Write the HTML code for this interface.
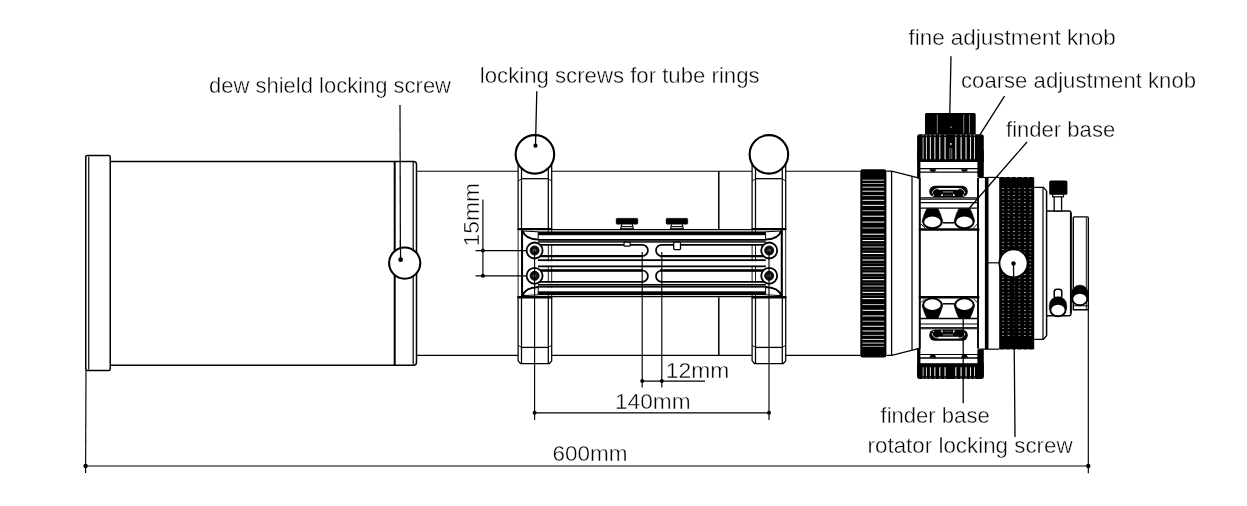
<!DOCTYPE html>
<html><head><meta charset="utf-8"><title>Telescope dimensions</title>
<style>
html,body{margin:0;padding:0;background:#fff;}
body{width:1247px;height:506px;overflow:hidden;font-family:"Liberation Sans",sans-serif;}
svg{display:block;}
</style></head>
<body>
<svg width="1247" height="506" viewBox="0 0 1247 506" stroke="#000" fill="none" font-family="Liberation Sans, sans-serif">
<rect x="0" y="0" width="1247" height="506" fill="#fff" stroke="none"/>
<rect x="85.75" y="155.5" width="24.5" height="215" rx="1.5" fill="none" stroke-width="1.5" />
<line x1="88.75" y1="156.5" x2="88.75" y2="369.5" stroke-width="1.2" />
<path d="M110.25 161.4 H413.5 Q416.5 161.4 416.5 164.4 V362.2 Q416.5 365.2 413.5 365.2 H110.25" fill="none" stroke-width="1.5" />
<line x1="394.7" y1="161.4" x2="394.7" y2="365.2" stroke-width="2" />
<line x1="413.2" y1="162" x2="413.2" y2="364.6" stroke-width="1.2" />
<line x1="400.0" y1="105" x2="400.4" y2="258" stroke-width="1.2" />
<circle cx="404.7" cy="263.1" r="15.6" fill="#fff" stroke-width="2.1" />
<line x1="400.4" y1="240" x2="400.6" y2="259.7" stroke-width="1.2" />
<circle cx="400.6" cy="259.7" r="2.4" fill="#000" stroke="none"/>
<line x1="416.5" y1="171.2" x2="860.4" y2="171.2" stroke-width="1.15" />
<line x1="416.5" y1="355.4" x2="860.4" y2="355.4" stroke-width="1.15" />
<line x1="718.8" y1="171.2" x2="718.8" y2="355.4" stroke-width="1.5" />
<rect x="518.1" y="160" width="33.60000000000002" height="70" fill="#fff" stroke="none"/>
<path d="M518.1 160 V230 M551.7 160 V230" fill="none" stroke-width="1.25" />
<path d="M521.5 166 V230 M548.3000000000001 166 V230" fill="none" stroke-width="1.25" />
<path d="M521.5 178.7 H548.3000000000001" fill="none" stroke-width="1.3" />
<path d="M518.1 181 L521.5 178.9 M551.7 181 L548.3000000000001 178.9" fill="none" stroke-width="0.9" />
<path d="M518.1 296 V360.8 L520.5 363.5 H549.3000000000001 L551.7 360.8 V296" fill="#fff" stroke-width="1.25" />
<path d="M521.5 296 V363 M548.3000000000001 296 V363" fill="none" stroke-width="1.25" />
<path d="M521.5 347.4 H548.3000000000001" fill="none" stroke-width="1.3" />
<path d="M518.1 345.4 L521.5 347.3 M551.7 345.4 L548.3000000000001 347.3" fill="none" stroke-width="0.9" />
<circle cx="534.9000000000001" cy="154.4" r="19.25" fill="#fff" stroke-width="2.1" />
<rect x="752.1" y="160" width="33.60000000000002" height="70" fill="#fff" stroke="none"/>
<path d="M752.1 160 V230 M785.7 160 V230" fill="none" stroke-width="1.25" />
<path d="M755.5 166 V230 M782.3000000000001 166 V230" fill="none" stroke-width="1.25" />
<path d="M755.5 178.7 H782.3000000000001" fill="none" stroke-width="1.3" />
<path d="M752.1 181 L755.5 178.9 M785.7 181 L782.3000000000001 178.9" fill="none" stroke-width="0.9" />
<path d="M752.1 296 V360.8 L754.5 363.5 H783.3000000000001 L785.7 360.8 V296" fill="#fff" stroke-width="1.25" />
<path d="M755.5 296 V363 M782.3000000000001 296 V363" fill="none" stroke-width="1.25" />
<path d="M755.5 347.4 H782.3000000000001" fill="none" stroke-width="1.3" />
<path d="M752.1 345.4 L755.5 347.3 M785.7 345.4 L782.3000000000001 347.3" fill="none" stroke-width="0.9" />
<circle cx="768.9000000000001" cy="154.4" r="19.25" fill="#fff" stroke-width="2.1" />
<g id="plate">
<path d="M617.3 218.3 h19.4 a1.2 1.2 0 0 1 1.2 1.2 v3.6 a1.2 1.2 0 0 1 -1.2 1.2 h-19.4 a1.2 1.2 0 0 1 -1.2 -1.2 v-3.6 a1.2 1.2 0 0 1 1.2 -1.2 z" fill="#000" stroke-width="0.4" />
<path d="M621.8 224.4 L620.4 229.6 M632.2 224.4 L633.6 229.6" fill="none" stroke-width="1.2" />
<line x1="621.4" y1="226.6" x2="632.6" y2="226.6" stroke-width="1.0" />
<line x1="620.8" y1="228.4" x2="633.2" y2="228.4" stroke-width="0.9" />
<path d="M667.1999999999999 218.3 h19.4 a1.2 1.2 0 0 1 1.2 1.2 v3.6 a1.2 1.2 0 0 1 -1.2 1.2 h-19.4 a1.2 1.2 0 0 1 -1.2 -1.2 v-3.6 a1.2 1.2 0 0 1 1.2 -1.2 z" fill="#000" stroke-width="0.4" />
<path d="M671.6999999999999 224.4 L670.3 229.6 M682.1 224.4 L683.5 229.6" fill="none" stroke-width="1.2" />
<line x1="671.3" y1="226.6" x2="682.5" y2="226.6" stroke-width="1.0" />
<line x1="670.6999999999999" y1="228.4" x2="683.1" y2="228.4" stroke-width="0.9" />
<rect x="519.1" y="229.3" width="265.6" height="68.0" fill="#fff" stroke="none"/>
<line x1="521.5" y1="229.3" x2="521.5" y2="297.3" stroke-width="0.9" />
<line x1="548.3000000000001" y1="229.3" x2="548.3000000000001" y2="297.3" stroke-width="0.9" />
<line x1="551.7" y1="229.3" x2="551.7" y2="297.3" stroke-width="0.9" />
<line x1="518.1" y1="229.3" x2="518.1" y2="297.3" stroke-width="0.9" />
<line x1="755.5" y1="229.3" x2="755.5" y2="297.3" stroke-width="0.9" />
<line x1="782.3000000000001" y1="229.3" x2="782.3000000000001" y2="297.3" stroke-width="0.9" />
<line x1="785.7" y1="229.3" x2="785.7" y2="297.3" stroke-width="0.9" />
<line x1="752.1" y1="229.3" x2="752.1" y2="297.3" stroke-width="0.9" />
<line x1="518.1" y1="229.60000000000002" x2="785.7" y2="229.60000000000002" stroke-width="1.3" />
<line x1="518.1" y1="296.7" x2="785.7" y2="296.7" stroke-width="1.3" />
<line x1="522.2" y1="229.3" x2="522.2" y2="297.3" stroke-width="1.7" />
<line x1="781.5999999999999" y1="229.3" x2="781.5999999999999" y2="297.3" stroke-width="1.7" />
<line x1="517.5" y1="229.0" x2="552.3000000000001" y2="229.0" stroke-width="2.0" />
<line x1="517.5" y1="297.6" x2="552.3000000000001" y2="297.6" stroke-width="2.0" />
<line x1="751.5" y1="229.0" x2="786.3000000000001" y2="229.0" stroke-width="2.0" />
<line x1="751.5" y1="297.6" x2="786.3000000000001" y2="297.6" stroke-width="2.0" />
<rect x="538.0" y="231.45000000000002" width="227.79999999999995" height="4.2" fill="#000" stroke="none"/>
<rect x="538.0" y="235.3" width="227.79999999999995" height="3.7" fill="#fff" stroke="none"/>
<rect x="538.0" y="239.0" width="227.79999999999995" height="3.8" fill="#000" stroke="none"/>
<line x1="538.0" y1="241.0" x2="765.8" y2="241.0" stroke="#fff" stroke-width="0.4"/>
<rect x="538.0" y="242.8" width="227.79999999999995" height="1.4" fill="#fff" stroke="none"/>
<line x1="538.0" y1="260.3" x2="765.8" y2="260.3" stroke-width="1.9" />
<rect x="538.0" y="290.95" width="227.79999999999995" height="4.2" fill="#000" stroke="none"/>
<rect x="538.0" y="287.6" width="227.79999999999995" height="3.7" fill="#fff" stroke="none"/>
<rect x="538.0" y="283.8" width="227.79999999999995" height="3.8" fill="#000" stroke="none"/>
<line x1="538.0" y1="285.6" x2="765.8" y2="285.6" stroke="#fff" stroke-width="0.4"/>
<rect x="538.0" y="282.40000000000003" width="227.79999999999995" height="1.4" fill="#fff" stroke="none"/>
<line x1="538.0" y1="266.3" x2="765.8" y2="266.3" stroke-width="1.9" />
<rect x="538.0" y="261.3" width="227.79999999999995" height="4" fill="#fff" stroke="none"/>
<path d="M522.8 231.0 Q524.8 238.8 538.1999999999999 239.6 L538.1999999999999 231.8 Z" fill="#fff" stroke-width="1.0" />
<path d="M522.8 231.0 Q524.8 238.8 538.1999999999999 239.6" fill="none" stroke-width="1.8" />
<path d="M522.8 295.6 Q524.8 287.8 538.1999999999999 287.0 L538.1999999999999 294.8 Z" fill="#fff" stroke-width="1.0" />
<path d="M522.8 295.6 Q524.8 287.8 538.1999999999999 287.0" fill="none" stroke-width="1.8" />
<path d="M781.0 231.0 Q779.0 238.8 765.6 239.6 L765.6 231.8 Z" fill="#fff" stroke-width="1.0" />
<path d="M781.0 231.0 Q779.0 238.8 765.6 239.6" fill="none" stroke-width="1.8" />
<path d="M781.0 295.6 Q779.0 287.8 765.6 287.0 L765.6 294.8 Z" fill="#fff" stroke-width="1.0" />
<path d="M781.0 295.6 Q779.0 287.8 765.6 287.0" fill="none" stroke-width="1.8" />
<rect x="534.6" y="244.8" width="113.29999999999995" height="11.300000000000011" rx="5.650000000000006" fill="none" stroke-width="1.7"/>
<line x1="538.6" y1="256.1" x2="642.9" y2="256.1" stroke-width="2.3" />
<rect x="656.0" y="244.8" width="113.19999999999993" height="11.300000000000011" rx="5.650000000000006" fill="none" stroke-width="1.7"/>
<line x1="660.0" y1="256.1" x2="764.1999999999999" y2="256.1" stroke-width="2.3" />
<rect x="534.6" y="270.5" width="113.29999999999995" height="11.300000000000011" rx="5.650000000000006" fill="none" stroke-width="1.7"/>
<line x1="538.6" y1="270.5" x2="642.9" y2="270.5" stroke-width="2.3" />
<rect x="656.0" y="270.5" width="113.19999999999993" height="11.300000000000011" rx="5.650000000000006" fill="none" stroke-width="1.7"/>
<line x1="660.0" y1="270.5" x2="764.1999999999999" y2="270.5" stroke-width="2.3" />
<circle cx="534.6" cy="250.5" r="8.0" fill="#fff" stroke-width="1.8" />
<circle cx="534.6" cy="250.5" r="4.5" fill="#111" stroke-width="0.9" />
<circle cx="534.6" cy="250.5" r="1.8" fill="#555" stroke-width="0" stroke="none"/>
<circle cx="534.6" cy="275.8" r="8.0" fill="#fff" stroke-width="1.8" />
<circle cx="534.6" cy="275.8" r="4.5" fill="#111" stroke-width="0.9" />
<circle cx="534.6" cy="275.8" r="1.8" fill="#555" stroke-width="0" stroke="none"/>
<circle cx="769.1999999999999" cy="250.5" r="8.0" fill="#fff" stroke-width="1.8" />
<circle cx="769.1999999999999" cy="250.5" r="4.5" fill="#111" stroke-width="0.9" />
<circle cx="769.1999999999999" cy="250.5" r="1.8" fill="#555" stroke-width="0" stroke="none"/>
<circle cx="769.1999999999999" cy="275.8" r="8.0" fill="#fff" stroke-width="1.8" />
<circle cx="769.1999999999999" cy="275.8" r="4.5" fill="#111" stroke-width="0.9" />
<circle cx="769.1999999999999" cy="275.8" r="1.8" fill="#555" stroke-width="0" stroke="none"/>
<rect x="624.0" y="242.2" width="6.2" height="4.0" rx="1" fill="#fff" stroke-width="1.2" />
<rect x="673.7" y="242.2" width="6.8" height="7.4" rx="0.8" fill="#fff" stroke-width="1.3" />
</g>
<g id="dims">
<line x1="482.9" y1="199.4" x2="482.9" y2="276" stroke-width="1.15" />
<line x1="475.6" y1="250.6" x2="526.4" y2="250.6" stroke-width="1.15" />
<line x1="475.6" y1="275.8" x2="526.4" y2="275.8" stroke-width="1.15" />
<circle cx="482.9" cy="250.6" r="2.0" fill="#000" stroke="none"/>
<circle cx="482.9" cy="275.8" r="2.0" fill="#000" stroke="none"/>
<line x1="642.2" y1="252" x2="642.2" y2="387.5" stroke-width="1.15" />
<line x1="661.8" y1="252" x2="661.8" y2="387.5" stroke-width="1.15" />
<line x1="642.2" y1="381.1" x2="705" y2="381.1" stroke-width="1.15" />
<circle cx="642.2" cy="381.1" r="2.0" fill="#000" stroke="none"/>
<circle cx="661.8" cy="381.1" r="2.0" fill="#000" stroke="none"/>
<line x1="534.6" y1="250.6" x2="534.6" y2="420" stroke-width="1.15" />
<line x1="769.0" y1="250.6" x2="769.0" y2="420" stroke-width="1.15" />
<line x1="534.6" y1="412.8" x2="769.0" y2="412.8" stroke-width="1.15" />
<circle cx="534.6" cy="412.8" r="2.0" fill="#000" stroke="none"/>
<circle cx="769.0" cy="412.8" r="2.0" fill="#000" stroke="none"/>
<line x1="86.0" y1="370.5" x2="85.6" y2="473" stroke-width="1.15" />
<line x1="1088.3" y1="309.8" x2="1088.3" y2="473.2" stroke-width="1.15" />
<line x1="85.6" y1="466" x2="1088.3" y2="466" stroke-width="1.15" />
<circle cx="85.6" cy="466" r="2.2" fill="#000" stroke="none"/>
<circle cx="1088.3" cy="466" r="2.2" fill="#000" stroke="none"/>
</g>
<rect x="860.3" y="169.2" width="26.100000000000023" height="188.20000000000005" rx="2.2" fill="#000" stroke="none"/>
<line x1="862.5" y1="180.21" x2="884.1999999999999" y2="180.21" stroke="#f2f2f2" stroke-width="0.86"/>
<line x1="862.5" y1="183.50" x2="884.1999999999999" y2="183.50" stroke="#b4b4b4" stroke-width="0.89"/>
<line x1="862.5" y1="187.17" x2="884.1999999999999" y2="187.17" stroke="#f2f2f2" stroke-width="0.92"/>
<line x1="862.5" y1="191.22" x2="884.1999999999999" y2="191.22" stroke="#f2f2f2" stroke-width="0.95"/>
<line x1="862.5" y1="195.61" x2="884.1999999999999" y2="195.61" stroke="#b4b4b4" stroke-width="0.98"/>
<line x1="862.5" y1="200.33" x2="884.1999999999999" y2="200.33" stroke="#f2f2f2" stroke-width="1.01"/>
<line x1="862.5" y1="205.37" x2="884.1999999999999" y2="205.37" stroke="#f2f2f2" stroke-width="1.03"/>
<line x1="862.5" y1="210.68" x2="884.1999999999999" y2="210.68" stroke="#b4b4b4" stroke-width="1.06"/>
<line x1="862.5" y1="216.25" x2="884.1999999999999" y2="216.25" stroke="#f2f2f2" stroke-width="1.08"/>
<line x1="862.5" y1="222.05" x2="884.1999999999999" y2="222.05" stroke="#f2f2f2" stroke-width="1.09"/>
<line x1="862.5" y1="228.05" x2="884.1999999999999" y2="228.05" stroke="#b4b4b4" stroke-width="1.11"/>
<line x1="862.5" y1="234.22" x2="884.1999999999999" y2="234.22" stroke="#f2f2f2" stroke-width="1.12"/>
<line x1="862.5" y1="237.36" x2="884.1999999999999" y2="237.36" stroke="#777" stroke-width="0.5"/>
<line x1="862.5" y1="240.54" x2="884.1999999999999" y2="240.54" stroke="#f2f2f2" stroke-width="1.13"/>
<line x1="862.5" y1="243.74" x2="884.1999999999999" y2="243.74" stroke="#777" stroke-width="0.5"/>
<line x1="862.5" y1="246.96" x2="884.1999999999999" y2="246.96" stroke="#b4b4b4" stroke-width="1.14"/>
<line x1="862.5" y1="250.20" x2="884.1999999999999" y2="250.20" stroke="#777" stroke-width="0.5"/>
<line x1="862.5" y1="253.46" x2="884.1999999999999" y2="253.46" stroke="#f2f2f2" stroke-width="1.15"/>
<line x1="862.5" y1="256.74" x2="884.1999999999999" y2="256.74" stroke="#777" stroke-width="0.5"/>
<line x1="862.5" y1="260.02" x2="884.1999999999999" y2="260.02" stroke="#f2f2f2" stroke-width="1.15"/>
<line x1="862.5" y1="263.30" x2="884.1999999999999" y2="263.30" stroke="#777" stroke-width="0.5"/>
<line x1="862.5" y1="266.58" x2="884.1999999999999" y2="266.58" stroke="#b4b4b4" stroke-width="1.15"/>
<line x1="862.5" y1="269.86" x2="884.1999999999999" y2="269.86" stroke="#777" stroke-width="0.5"/>
<line x1="862.5" y1="273.14" x2="884.1999999999999" y2="273.14" stroke="#f2f2f2" stroke-width="1.15"/>
<line x1="862.5" y1="276.40" x2="884.1999999999999" y2="276.40" stroke="#777" stroke-width="0.5"/>
<line x1="862.5" y1="279.64" x2="884.1999999999999" y2="279.64" stroke="#f2f2f2" stroke-width="1.14"/>
<line x1="862.5" y1="282.86" x2="884.1999999999999" y2="282.86" stroke="#777" stroke-width="0.5"/>
<line x1="862.5" y1="286.06" x2="884.1999999999999" y2="286.06" stroke="#b4b4b4" stroke-width="1.13"/>
<line x1="862.5" y1="289.24" x2="884.1999999999999" y2="289.24" stroke="#777" stroke-width="0.5"/>
<line x1="862.5" y1="292.38" x2="884.1999999999999" y2="292.38" stroke="#f2f2f2" stroke-width="1.12"/>
<line x1="862.5" y1="295.48" x2="884.1999999999999" y2="295.48" stroke="#777" stroke-width="0.5"/>
<line x1="862.5" y1="298.55" x2="884.1999999999999" y2="298.55" stroke="#f2f2f2" stroke-width="1.11"/>
<line x1="862.5" y1="304.55" x2="884.1999999999999" y2="304.55" stroke="#b4b4b4" stroke-width="1.09"/>
<line x1="862.5" y1="310.35" x2="884.1999999999999" y2="310.35" stroke="#f2f2f2" stroke-width="1.08"/>
<line x1="862.5" y1="315.92" x2="884.1999999999999" y2="315.92" stroke="#f2f2f2" stroke-width="1.06"/>
<line x1="862.5" y1="321.23" x2="884.1999999999999" y2="321.23" stroke="#b4b4b4" stroke-width="1.03"/>
<line x1="862.5" y1="326.27" x2="884.1999999999999" y2="326.27" stroke="#f2f2f2" stroke-width="1.01"/>
<line x1="862.5" y1="330.99" x2="884.1999999999999" y2="330.99" stroke="#f2f2f2" stroke-width="0.98"/>
<line x1="862.5" y1="335.38" x2="884.1999999999999" y2="335.38" stroke="#b4b4b4" stroke-width="0.95"/>
<line x1="862.5" y1="339.43" x2="884.1999999999999" y2="339.43" stroke="#f2f2f2" stroke-width="0.92"/>
<line x1="862.5" y1="343.10" x2="884.1999999999999" y2="343.10" stroke="#f2f2f2" stroke-width="0.89"/>
<line x1="862.5" y1="346.39" x2="884.1999999999999" y2="346.39" stroke="#b4b4b4" stroke-width="0.86"/>
<path d="M886.4 171.2 H891.7 L918.4 177.9" fill="none" stroke-width="1.2" />
<path d="M886.4 355.40000000000003 H891.7 L918.4 348.70000000000005" fill="none" stroke-width="1.2" />
<line x1="891.6" y1="171.2" x2="891.6" y2="355.40000000000003" stroke-width="1.3" />
<line x1="912.0" y1="176.3" x2="912.0" y2="350.3" stroke-width="1.25" />
<line x1="919.8" y1="178" x2="919.8" y2="348.6" stroke-width="2.0" />
<line x1="978.0" y1="178" x2="978.0" y2="348.6" stroke-width="1.9" />
<line x1="986.7" y1="177.3" x2="986.7" y2="349.3" stroke-width="3.6" />
<line x1="988" y1="177.4" x2="999.2" y2="177.4" stroke-width="1.2" />
<line x1="988" y1="349.20000000000005" x2="999.2" y2="349.20000000000005" stroke-width="1.2" />
<line x1="978.6" y1="177.5" x2="988" y2="177.5" stroke-width="1.2" />
<line x1="978.6" y1="349.1" x2="988" y2="349.1" stroke-width="1.2" />
<line x1="988" y1="262.8" x2="999.2" y2="262.8" stroke-width="1.2" />
<path d="M925 134.6 V114.6 Q925 113 926.6 113 H974.1 Q975.7 113 975.7 114.6 V134.6 Z" fill="#000" stroke-width="0" stroke="none"/>
<line x1="937.3" y1="114.6" x2="937.3" y2="133.4" stroke="#fff" stroke-width="0.5"/>
<line x1="963.7" y1="114.6" x2="963.7" y2="133.4" stroke="#fff" stroke-width="0.5"/>
<line x1="969.5" y1="114.6" x2="969.5" y2="133.4" stroke="#fff" stroke-width="0.5"/>
<circle cx="951.1" cy="127.1" r="0.7" fill="#fff" stroke="none"/>
<rect x="917.1" y="150" width="3.3" height="28.599999999999994" fill="#000" stroke="none"/>
<rect x="977.4" y="150" width="6.4" height="27.30000000000001" fill="#000" stroke="none"/>
<rect x="917.1" y="158.6" width="66.7" height="3.4000000000000057" fill="#000" stroke="none"/>
<line x1="920" y1="168.6" x2="978" y2="168.6" stroke-width="1.3" />
<line x1="920" y1="172.1" x2="978" y2="172.1" stroke-width="1.2" />
<path d="M929.4 169.2 H936.1999999999999 L934.8 171.6 H930.8 Z" fill="#000" stroke-width="0.3" />
<path d="M961.1 169.2 H967.9 L966.5 171.6 H962.5 Z" fill="#000" stroke-width="0.3" />
<path d="M917.1 159.2 V136.8 Q917.1 134.3 919.6 134.3 H981.3 Q983.8 134.3 983.8 136.8 V159.2 Z" fill="#000" stroke-width="0" stroke="none"/>
<line x1="923.14" y1="136.9" x2="923.14" y2="159.2" stroke="#fff" stroke-width="0.75"/>
<line x1="922.24" y1="135.20000000000002" x2="924.04" y2="135.20000000000002" stroke="#ddd" stroke-width="0.6"/>
<line x1="926.41" y1="136.9" x2="926.41" y2="159.2" stroke="#fff" stroke-width="0.85"/>
<line x1="925.51" y1="135.20000000000002" x2="927.31" y2="135.20000000000002" stroke="#ddd" stroke-width="0.6"/>
<line x1="930.36" y1="136.9" x2="930.36" y2="159.2" stroke="#fff" stroke-width="0.94"/>
<line x1="929.46" y1="135.20000000000002" x2="931.26" y2="135.20000000000002" stroke="#ddd" stroke-width="0.6"/>
<line x1="934.87" y1="136.9" x2="934.87" y2="159.2" stroke="#fff" stroke-width="1.01"/>
<line x1="933.97" y1="135.20000000000002" x2="935.77" y2="135.20000000000002" stroke="#ddd" stroke-width="0.6"/>
<line x1="939.81" y1="136.9" x2="939.81" y2="159.2" stroke="#fff" stroke-width="1.06"/>
<line x1="938.91" y1="135.20000000000002" x2="940.71" y2="135.20000000000002" stroke="#ddd" stroke-width="0.6"/>
<line x1="945.06" y1="136.9" x2="945.06" y2="159.2" stroke="#fff" stroke-width="1.09"/>
<line x1="944.16" y1="135.20000000000002" x2="945.96" y2="135.20000000000002" stroke="#ddd" stroke-width="0.6"/>
<line x1="955.84" y1="136.9" x2="955.84" y2="159.2" stroke="#fff" stroke-width="1.09"/>
<line x1="954.94" y1="135.20000000000002" x2="956.74" y2="135.20000000000002" stroke="#ddd" stroke-width="0.6"/>
<line x1="961.09" y1="136.9" x2="961.09" y2="159.2" stroke="#fff" stroke-width="1.06"/>
<line x1="960.19" y1="135.20000000000002" x2="961.99" y2="135.20000000000002" stroke="#ddd" stroke-width="0.6"/>
<line x1="966.03" y1="136.9" x2="966.03" y2="159.2" stroke="#fff" stroke-width="1.01"/>
<line x1="965.13" y1="135.20000000000002" x2="966.93" y2="135.20000000000002" stroke="#ddd" stroke-width="0.6"/>
<line x1="970.54" y1="136.9" x2="970.54" y2="159.2" stroke="#fff" stroke-width="0.94"/>
<line x1="969.64" y1="135.20000000000002" x2="971.44" y2="135.20000000000002" stroke="#ddd" stroke-width="0.6"/>
<line x1="974.49" y1="136.9" x2="974.49" y2="159.2" stroke="#fff" stroke-width="0.85"/>
<line x1="973.59" y1="135.20000000000002" x2="975.39" y2="135.20000000000002" stroke="#ddd" stroke-width="0.6"/>
<circle cx="950.85" cy="144" r="0.9" fill="#fff" stroke="none"/>
<line x1="949.85" y1="148" x2="949.85" y2="159" stroke="#fff" stroke-width="0.5"/>
<line x1="951.75" y1="148" x2="951.75" y2="159" stroke="#fff" stroke-width="0.5"/>
<rect x="917.1" y="348.0" width="3.3" height="28.600000000000023" fill="#000" stroke="none"/>
<rect x="977.4" y="349.3" width="6.4" height="27.30000000000001" fill="#000" stroke="none"/>
<rect x="917.1" y="363.2" width="66.7" height="3.6999999999999886" fill="#000" stroke="none"/>
<line x1="920" y1="358.0" x2="978" y2="358.0" stroke-width="1.3" />
<line x1="920" y1="354.5" x2="978" y2="354.5" stroke-width="1.2" />
<path d="M929.4 357.40000000000003 H936.1999999999999 L934.8 355.0 H930.8 Z" fill="#000" stroke-width="0.3" />
<path d="M961.1 357.40000000000003 H967.9 L966.5 355.0 H962.5 Z" fill="#000" stroke-width="0.3" />
<path d="M917.1 366.0 V376.6 Q917.1 379.1 919.6 379.1 H981.3 Q983.8 379.1 983.8 376.6 V366.0 Z" fill="#000" stroke-width="0" stroke="none"/>
<line x1="923.14" y1="367.3" x2="923.14" y2="376.20000000000005" stroke="#fff" stroke-width="0.75"/>
<line x1="922.24" y1="378.20000000000005" x2="924.04" y2="378.20000000000005" stroke="#ddd" stroke-width="0.6"/>
<line x1="926.41" y1="367.3" x2="926.41" y2="376.20000000000005" stroke="#fff" stroke-width="0.85"/>
<line x1="925.51" y1="378.20000000000005" x2="927.31" y2="378.20000000000005" stroke="#ddd" stroke-width="0.6"/>
<line x1="930.36" y1="367.3" x2="930.36" y2="376.20000000000005" stroke="#fff" stroke-width="0.94"/>
<line x1="929.46" y1="378.20000000000005" x2="931.26" y2="378.20000000000005" stroke="#ddd" stroke-width="0.6"/>
<line x1="934.87" y1="367.3" x2="934.87" y2="376.20000000000005" stroke="#fff" stroke-width="1.01"/>
<line x1="933.97" y1="378.20000000000005" x2="935.77" y2="378.20000000000005" stroke="#ddd" stroke-width="0.6"/>
<line x1="939.81" y1="367.3" x2="939.81" y2="376.20000000000005" stroke="#fff" stroke-width="1.06"/>
<line x1="938.91" y1="378.20000000000005" x2="940.71" y2="378.20000000000005" stroke="#ddd" stroke-width="0.6"/>
<line x1="945.06" y1="367.3" x2="945.06" y2="376.20000000000005" stroke="#fff" stroke-width="1.09"/>
<line x1="944.16" y1="378.20000000000005" x2="945.96" y2="378.20000000000005" stroke="#ddd" stroke-width="0.6"/>
<line x1="955.84" y1="367.3" x2="955.84" y2="376.20000000000005" stroke="#fff" stroke-width="1.09"/>
<line x1="954.94" y1="378.20000000000005" x2="956.74" y2="378.20000000000005" stroke="#ddd" stroke-width="0.6"/>
<line x1="961.09" y1="367.3" x2="961.09" y2="376.20000000000005" stroke="#fff" stroke-width="1.06"/>
<line x1="960.19" y1="378.20000000000005" x2="961.99" y2="378.20000000000005" stroke="#ddd" stroke-width="0.6"/>
<line x1="966.03" y1="367.3" x2="966.03" y2="376.20000000000005" stroke="#fff" stroke-width="1.01"/>
<line x1="965.13" y1="378.20000000000005" x2="966.93" y2="378.20000000000005" stroke="#ddd" stroke-width="0.6"/>
<line x1="970.54" y1="367.3" x2="970.54" y2="376.20000000000005" stroke="#fff" stroke-width="0.94"/>
<line x1="969.64" y1="378.20000000000005" x2="971.44" y2="378.20000000000005" stroke="#ddd" stroke-width="0.6"/>
<line x1="974.49" y1="367.3" x2="974.49" y2="376.20000000000005" stroke="#fff" stroke-width="0.85"/>
<line x1="973.59" y1="378.20000000000005" x2="975.39" y2="378.20000000000005" stroke="#ddd" stroke-width="0.6"/>
<rect x="929.2" y="185.8" width="38.6" height="11.199999999999989" rx="5.6" fill="#000" stroke="none"/>
<rect x="938.2" y="188.0" width="20.6" height="1.8000000000000114" fill="#fff" stroke="none"/>
<path d="M938 188.4 Q932.2 189.2 932.2 193.6" fill="none" stroke-width="0.8" stroke="#fff"/>
<path d="M959 188.4 Q964.8 189.2 964.8 193.6" fill="none" stroke-width="0.8" stroke="#fff"/>
<rect x="942.8" y="191.0" width="10.2" height="1.8000000000000114" fill="#5a5a5a" stroke="none"/>
<rect x="944.2" y="194.6" width="7.4" height="1.200000000000017" fill="#444" stroke="none"/>
<path d="M940.5999999999999 196 L942.4 193.6 L943.0 196 Z" fill="#fff" stroke-width="0" stroke="none"/>
<path d="M952.8 196 L953.4 193.6 L955.2 196 Z" fill="#fff" stroke-width="0" stroke="none"/>
<path d="M932.4 195.8 L933.4 194.0 L934.4 195.8 Z" fill="#ddd" stroke-width="0" stroke="none"/>
<path d="M962.6 195.8 L963.6 194.0 L964.6 195.8 Z" fill="#ddd" stroke-width="0" stroke="none"/>
<line x1="919.7" y1="198.5" x2="978.6" y2="198.5" stroke-width="2.3" />
<line x1="921" y1="198.5" x2="977.6" y2="198.5" stroke="#fff" stroke-width="0.35"/>
<line x1="919.7" y1="202.6" x2="978.6" y2="202.6" stroke-width="1.1" />
<line x1="919.7" y1="208.1" x2="978.6" y2="208.1" stroke-width="1.3" />
<line x1="918.8" y1="229.4" x2="979.4" y2="229.4" stroke-width="2.5" />
<line x1="942.5" y1="222.8" x2="954.7" y2="222.8" stroke-width="1.5" />
<path d="M921 224 L925 228 M977.4 224 L973.4 228" fill="none" stroke-width="0.9" />
<path d="M926.8 208.4 H938.0 Q940.8 213.5 942.5 220 V222 H922.3 V220 Q924.0 213.5 926.8 208.4 Z" fill="#000" stroke-width="0.4" />
<ellipse cx="932.4" cy="221.9" rx="9.2" ry="6.3" fill="#fff" stroke-width="1.9"/>
<path d="M958.8 208.4 H970.0 Q972.8 213.5 974.5 220 V222 H954.3 V220 Q956.0 213.5 958.8 208.4 Z" fill="#000" stroke-width="0.4" />
<ellipse cx="964.4" cy="221.9" rx="9.2" ry="6.3" fill="#fff" stroke-width="1.9"/>
<rect x="929.2" y="329.6" width="38.6" height="11.199999999999989" rx="5.6" fill="#000" stroke="none"/>
<rect x="938.2" y="336.8" width="20.6" height="1.8000000000000114" fill="#fff" stroke="none"/>
<path d="M938 338.20000000000005 Q932.2 337.40000000000003 932.2 333.0" fill="none" stroke-width="0.8" stroke="#fff"/>
<path d="M959 338.20000000000005 Q964.8 337.40000000000003 964.8 333.0" fill="none" stroke-width="0.8" stroke="#fff"/>
<rect x="942.8" y="333.8" width="10.2" height="1.8000000000000114" fill="#5a5a5a" stroke="none"/>
<rect x="944.2" y="330.8" width="7.4" height="1.1999999999999886" fill="#444" stroke="none"/>
<path d="M940.5999999999999 330.6 L942.4 333.0 L943.0 330.6 Z" fill="#fff" stroke-width="0" stroke="none"/>
<path d="M952.8 330.6 L953.4 333.0 L955.2 330.6 Z" fill="#fff" stroke-width="0" stroke="none"/>
<path d="M932.4 330.8 L933.4 332.6 L934.4 330.8 Z" fill="#ddd" stroke-width="0" stroke="none"/>
<path d="M962.6 330.8 L963.6 332.6 L964.6 330.8 Z" fill="#ddd" stroke-width="0" stroke="none"/>
<line x1="919.7" y1="328.1" x2="978.6" y2="328.1" stroke-width="2.3" />
<line x1="921" y1="328.1" x2="977.6" y2="328.1" stroke="#fff" stroke-width="0.35"/>
<line x1="919.7" y1="324.0" x2="978.6" y2="324.0" stroke-width="1.1" />
<line x1="919.7" y1="318.5" x2="978.6" y2="318.5" stroke-width="1.3" />
<line x1="918.8" y1="297.20000000000005" x2="979.4" y2="297.20000000000005" stroke-width="2.5" />
<line x1="942.5" y1="303.8" x2="954.7" y2="303.8" stroke-width="1.5" />
<path d="M921 302.6 L925 298.6 M977.4 302.6 L973.4 298.6" fill="none" stroke-width="0.9" />
<path d="M926.8 318.20000000000005 H938.0 Q940.8 313.1 942.5 306.6 V304.6 H922.3 V306.6 Q924.0 313.1 926.8 318.20000000000005 Z" fill="#000" stroke-width="0.4" />
<ellipse cx="932.4" cy="304.70000000000005" rx="9.2" ry="6.3" fill="#fff" stroke-width="1.9"/>
<path d="M958.8 318.20000000000005 H970.0 Q972.8 313.1 974.5 306.6 V304.6 H954.3 V306.6 Q956.0 313.1 958.8 318.20000000000005 Z" fill="#000" stroke-width="0.4" />
<ellipse cx="964.4" cy="304.70000000000005" rx="9.2" ry="6.3" fill="#fff" stroke-width="1.9"/>
<rect x="999.2" y="177.6" width="35.0" height="171.40000000000003" fill="#000" stroke="none"/>
<rect x="999.50" y="177.0" width="5.23" height="3" rx="1.2" fill="#000" stroke="none"/>
<rect x="999.50" y="346.6" width="5.23" height="3" rx="1.2" fill="#000" stroke="none"/>
<rect x="1005.33" y="177.0" width="5.23" height="3" rx="1.2" fill="#000" stroke="none"/>
<rect x="1005.33" y="346.6" width="5.23" height="3" rx="1.2" fill="#000" stroke="none"/>
<rect x="1011.17" y="177.0" width="5.23" height="3" rx="1.2" fill="#000" stroke="none"/>
<rect x="1011.17" y="346.6" width="5.23" height="3" rx="1.2" fill="#000" stroke="none"/>
<rect x="1017.00" y="177.0" width="5.23" height="3" rx="1.2" fill="#000" stroke="none"/>
<rect x="1017.00" y="346.6" width="5.23" height="3" rx="1.2" fill="#000" stroke="none"/>
<rect x="1022.83" y="177.0" width="5.23" height="3" rx="1.2" fill="#000" stroke="none"/>
<rect x="1022.83" y="346.6" width="5.23" height="3" rx="1.2" fill="#000" stroke="none"/>
<rect x="1028.67" y="177.0" width="5.23" height="3" rx="1.2" fill="#000" stroke="none"/>
<rect x="1028.67" y="346.6" width="5.23" height="3" rx="1.2" fill="#000" stroke="none"/>
<rect x="1002.20" y="188.00" width="1.8" height="0.8" fill="#d8d8d8" stroke="none"/>
<rect x="1007.70" y="188.00" width="1.8" height="0.8" fill="#8c8c8c" stroke="none"/>
<rect x="1013.20" y="188.00" width="1.8" height="0.8" fill="#8c8c8c" stroke="none"/>
<rect x="1018.50" y="188.00" width="1.8" height="0.8" fill="#b4b4b4" stroke="none"/>
<rect x="1024.00" y="188.00" width="1.8" height="0.8" fill="#b4b4b4" stroke="none"/>
<rect x="1029.40" y="188.00" width="1.8" height="0.8" fill="#d8d8d8" stroke="none"/>
<rect x="1002.20" y="191.59" width="1.8" height="0.8" fill="#b4b4b4" stroke="none"/>
<rect x="1007.70" y="191.59" width="1.8" height="0.8" fill="#d8d8d8" stroke="none"/>
<rect x="1013.20" y="191.59" width="1.8" height="0.8" fill="#8c8c8c" stroke="none"/>
<rect x="1018.50" y="191.59" width="1.8" height="0.8" fill="#8c8c8c" stroke="none"/>
<rect x="1024.00" y="191.59" width="1.8" height="0.8" fill="#b4b4b4" stroke="none"/>
<rect x="1029.40" y="191.59" width="1.8" height="0.8" fill="#b4b4b4" stroke="none"/>
<rect x="1002.20" y="195.18" width="1.8" height="0.8" fill="#b4b4b4" stroke="none"/>
<rect x="1007.70" y="195.18" width="1.8" height="0.8" fill="#b4b4b4" stroke="none"/>
<rect x="1013.20" y="195.18" width="1.8" height="0.8" fill="#d8d8d8" stroke="none"/>
<rect x="1018.50" y="195.18" width="1.8" height="0.8" fill="#8c8c8c" stroke="none"/>
<rect x="1024.00" y="195.18" width="1.8" height="0.8" fill="#8c8c8c" stroke="none"/>
<rect x="1029.40" y="195.18" width="1.8" height="0.8" fill="#b4b4b4" stroke="none"/>
<rect x="1002.20" y="198.77" width="1.8" height="0.8" fill="#8c8c8c" stroke="none"/>
<rect x="1007.70" y="198.77" width="1.8" height="0.8" fill="#b4b4b4" stroke="none"/>
<rect x="1013.20" y="198.77" width="1.8" height="0.8" fill="#b4b4b4" stroke="none"/>
<rect x="1018.50" y="198.77" width="1.8" height="0.8" fill="#d8d8d8" stroke="none"/>
<rect x="1024.00" y="198.77" width="1.8" height="0.8" fill="#8c8c8c" stroke="none"/>
<rect x="1029.40" y="198.77" width="1.8" height="0.8" fill="#8c8c8c" stroke="none"/>
<rect x="1002.20" y="202.36" width="1.8" height="0.8" fill="#8c8c8c" stroke="none"/>
<rect x="1007.70" y="202.36" width="1.8" height="0.8" fill="#8c8c8c" stroke="none"/>
<rect x="1013.20" y="202.36" width="1.8" height="0.8" fill="#b4b4b4" stroke="none"/>
<rect x="1018.50" y="202.36" width="1.8" height="0.8" fill="#b4b4b4" stroke="none"/>
<rect x="1024.00" y="202.36" width="1.8" height="0.8" fill="#d8d8d8" stroke="none"/>
<rect x="1029.40" y="202.36" width="1.8" height="0.8" fill="#8c8c8c" stroke="none"/>
<rect x="1002.20" y="205.95" width="1.8" height="0.8" fill="#d8d8d8" stroke="none"/>
<rect x="1007.70" y="205.95" width="1.8" height="0.8" fill="#8c8c8c" stroke="none"/>
<rect x="1013.20" y="205.95" width="1.8" height="0.8" fill="#8c8c8c" stroke="none"/>
<rect x="1018.50" y="205.95" width="1.8" height="0.8" fill="#b4b4b4" stroke="none"/>
<rect x="1024.00" y="205.95" width="1.8" height="0.8" fill="#b4b4b4" stroke="none"/>
<rect x="1029.40" y="205.95" width="1.8" height="0.8" fill="#d8d8d8" stroke="none"/>
<rect x="1002.20" y="209.54" width="1.8" height="0.8" fill="#b4b4b4" stroke="none"/>
<rect x="1007.70" y="209.54" width="1.8" height="0.8" fill="#d8d8d8" stroke="none"/>
<rect x="1013.20" y="209.54" width="1.8" height="0.8" fill="#8c8c8c" stroke="none"/>
<rect x="1018.50" y="209.54" width="1.8" height="0.8" fill="#8c8c8c" stroke="none"/>
<rect x="1024.00" y="209.54" width="1.8" height="0.8" fill="#b4b4b4" stroke="none"/>
<rect x="1029.40" y="209.54" width="1.8" height="0.8" fill="#b4b4b4" stroke="none"/>
<rect x="1002.20" y="213.13" width="1.8" height="0.8" fill="#b4b4b4" stroke="none"/>
<rect x="1007.70" y="213.13" width="1.8" height="0.8" fill="#b4b4b4" stroke="none"/>
<rect x="1013.20" y="213.13" width="1.8" height="0.8" fill="#d8d8d8" stroke="none"/>
<rect x="1018.50" y="213.13" width="1.8" height="0.8" fill="#8c8c8c" stroke="none"/>
<rect x="1024.00" y="213.13" width="1.8" height="0.8" fill="#8c8c8c" stroke="none"/>
<rect x="1029.40" y="213.13" width="1.8" height="0.8" fill="#b4b4b4" stroke="none"/>
<rect x="1002.20" y="216.72" width="1.8" height="0.8" fill="#8c8c8c" stroke="none"/>
<rect x="1007.70" y="216.72" width="1.8" height="0.8" fill="#b4b4b4" stroke="none"/>
<rect x="1013.20" y="216.72" width="1.8" height="0.8" fill="#b4b4b4" stroke="none"/>
<rect x="1018.50" y="216.72" width="1.8" height="0.8" fill="#d8d8d8" stroke="none"/>
<rect x="1024.00" y="216.72" width="1.8" height="0.8" fill="#8c8c8c" stroke="none"/>
<rect x="1029.40" y="216.72" width="1.8" height="0.8" fill="#8c8c8c" stroke="none"/>
<rect x="1002.20" y="220.31" width="1.8" height="0.8" fill="#8c8c8c" stroke="none"/>
<rect x="1007.70" y="220.31" width="1.8" height="0.8" fill="#8c8c8c" stroke="none"/>
<rect x="1013.20" y="220.31" width="1.8" height="0.8" fill="#b4b4b4" stroke="none"/>
<rect x="1018.50" y="220.31" width="1.8" height="0.8" fill="#b4b4b4" stroke="none"/>
<rect x="1024.00" y="220.31" width="1.8" height="0.8" fill="#d8d8d8" stroke="none"/>
<rect x="1029.40" y="220.31" width="1.8" height="0.8" fill="#8c8c8c" stroke="none"/>
<rect x="1002.20" y="223.90" width="1.8" height="0.8" fill="#d8d8d8" stroke="none"/>
<rect x="1007.70" y="223.90" width="1.8" height="0.8" fill="#8c8c8c" stroke="none"/>
<rect x="1013.20" y="223.90" width="1.8" height="0.8" fill="#8c8c8c" stroke="none"/>
<rect x="1018.50" y="223.90" width="1.8" height="0.8" fill="#b4b4b4" stroke="none"/>
<rect x="1024.00" y="223.90" width="1.8" height="0.8" fill="#b4b4b4" stroke="none"/>
<rect x="1029.40" y="223.90" width="1.8" height="0.8" fill="#d8d8d8" stroke="none"/>
<rect x="1002.20" y="227.49" width="1.8" height="0.8" fill="#b4b4b4" stroke="none"/>
<rect x="1007.70" y="227.49" width="1.8" height="0.8" fill="#d8d8d8" stroke="none"/>
<rect x="1013.20" y="227.49" width="1.8" height="0.8" fill="#8c8c8c" stroke="none"/>
<rect x="1018.50" y="227.49" width="1.8" height="0.8" fill="#8c8c8c" stroke="none"/>
<rect x="1024.00" y="227.49" width="1.8" height="0.8" fill="#b4b4b4" stroke="none"/>
<rect x="1029.40" y="227.49" width="1.8" height="0.8" fill="#b4b4b4" stroke="none"/>
<rect x="1002.20" y="231.08" width="1.8" height="0.8" fill="#b4b4b4" stroke="none"/>
<rect x="1007.70" y="231.08" width="1.8" height="0.8" fill="#b4b4b4" stroke="none"/>
<rect x="1013.20" y="231.08" width="1.8" height="0.8" fill="#d8d8d8" stroke="none"/>
<rect x="1018.50" y="231.08" width="1.8" height="0.8" fill="#8c8c8c" stroke="none"/>
<rect x="1024.00" y="231.08" width="1.8" height="0.8" fill="#8c8c8c" stroke="none"/>
<rect x="1029.40" y="231.08" width="1.8" height="0.8" fill="#b4b4b4" stroke="none"/>
<rect x="1002.20" y="234.67" width="1.8" height="0.8" fill="#8c8c8c" stroke="none"/>
<rect x="1007.70" y="234.67" width="1.8" height="0.8" fill="#b4b4b4" stroke="none"/>
<rect x="1013.20" y="234.67" width="1.8" height="0.8" fill="#b4b4b4" stroke="none"/>
<rect x="1018.50" y="234.67" width="1.8" height="0.8" fill="#d8d8d8" stroke="none"/>
<rect x="1024.00" y="234.67" width="1.8" height="0.8" fill="#8c8c8c" stroke="none"/>
<rect x="1029.40" y="234.67" width="1.8" height="0.8" fill="#8c8c8c" stroke="none"/>
<rect x="1002.20" y="238.26" width="1.8" height="0.8" fill="#8c8c8c" stroke="none"/>
<rect x="1007.70" y="238.26" width="1.8" height="0.8" fill="#8c8c8c" stroke="none"/>
<rect x="1013.20" y="238.26" width="1.8" height="0.8" fill="#b4b4b4" stroke="none"/>
<rect x="1018.50" y="238.26" width="1.8" height="0.8" fill="#b4b4b4" stroke="none"/>
<rect x="1024.00" y="238.26" width="1.8" height="0.8" fill="#d8d8d8" stroke="none"/>
<rect x="1029.40" y="238.26" width="1.8" height="0.8" fill="#8c8c8c" stroke="none"/>
<rect x="1002.20" y="241.85" width="1.8" height="0.8" fill="#d8d8d8" stroke="none"/>
<rect x="1007.70" y="241.85" width="1.8" height="0.8" fill="#8c8c8c" stroke="none"/>
<rect x="1013.20" y="241.85" width="1.8" height="0.8" fill="#8c8c8c" stroke="none"/>
<rect x="1018.50" y="241.85" width="1.8" height="0.8" fill="#b4b4b4" stroke="none"/>
<rect x="1024.00" y="241.85" width="1.8" height="0.8" fill="#b4b4b4" stroke="none"/>
<rect x="1029.40" y="241.85" width="1.8" height="0.8" fill="#d8d8d8" stroke="none"/>
<rect x="1002.20" y="245.44" width="1.8" height="0.8" fill="#b4b4b4" stroke="none"/>
<rect x="1007.70" y="245.44" width="1.8" height="0.8" fill="#d8d8d8" stroke="none"/>
<rect x="1013.20" y="245.44" width="1.8" height="0.8" fill="#8c8c8c" stroke="none"/>
<rect x="1018.50" y="245.44" width="1.8" height="0.8" fill="#8c8c8c" stroke="none"/>
<rect x="1024.00" y="245.44" width="1.8" height="0.8" fill="#b4b4b4" stroke="none"/>
<rect x="1029.40" y="245.44" width="1.8" height="0.8" fill="#b4b4b4" stroke="none"/>
<rect x="1002.20" y="249.03" width="1.8" height="0.8" fill="#b4b4b4" stroke="none"/>
<rect x="1007.70" y="249.03" width="1.8" height="0.8" fill="#b4b4b4" stroke="none"/>
<rect x="1013.20" y="249.03" width="1.8" height="0.8" fill="#d8d8d8" stroke="none"/>
<rect x="1018.50" y="249.03" width="1.8" height="0.8" fill="#8c8c8c" stroke="none"/>
<rect x="1024.00" y="249.03" width="1.8" height="0.8" fill="#8c8c8c" stroke="none"/>
<rect x="1029.40" y="249.03" width="1.8" height="0.8" fill="#b4b4b4" stroke="none"/>
<rect x="1002.20" y="252.62" width="1.8" height="0.8" fill="#8c8c8c" stroke="none"/>
<rect x="1007.70" y="252.62" width="1.8" height="0.8" fill="#b4b4b4" stroke="none"/>
<rect x="1013.20" y="252.62" width="1.8" height="0.8" fill="#b4b4b4" stroke="none"/>
<rect x="1018.50" y="252.62" width="1.8" height="0.8" fill="#d8d8d8" stroke="none"/>
<rect x="1024.00" y="252.62" width="1.8" height="0.8" fill="#8c8c8c" stroke="none"/>
<rect x="1029.40" y="252.62" width="1.8" height="0.8" fill="#8c8c8c" stroke="none"/>
<rect x="1002.20" y="256.21" width="1.8" height="0.8" fill="#8c8c8c" stroke="none"/>
<rect x="1007.70" y="256.21" width="1.8" height="0.8" fill="#8c8c8c" stroke="none"/>
<rect x="1013.20" y="256.21" width="1.8" height="0.8" fill="#b4b4b4" stroke="none"/>
<rect x="1018.50" y="256.21" width="1.8" height="0.8" fill="#b4b4b4" stroke="none"/>
<rect x="1024.00" y="256.21" width="1.8" height="0.8" fill="#d8d8d8" stroke="none"/>
<rect x="1029.40" y="256.21" width="1.8" height="0.8" fill="#8c8c8c" stroke="none"/>
<rect x="1002.20" y="259.80" width="1.8" height="0.8" fill="#d8d8d8" stroke="none"/>
<rect x="1007.70" y="259.80" width="1.8" height="0.8" fill="#8c8c8c" stroke="none"/>
<rect x="1013.20" y="259.80" width="1.8" height="0.8" fill="#8c8c8c" stroke="none"/>
<rect x="1018.50" y="259.80" width="1.8" height="0.8" fill="#b4b4b4" stroke="none"/>
<rect x="1024.00" y="259.80" width="1.8" height="0.8" fill="#b4b4b4" stroke="none"/>
<rect x="1029.40" y="259.80" width="1.8" height="0.8" fill="#d8d8d8" stroke="none"/>
<rect x="1002.20" y="263.40" width="1.8" height="0.8" fill="#b4b4b4" stroke="none"/>
<rect x="1007.70" y="263.40" width="1.8" height="0.8" fill="#d8d8d8" stroke="none"/>
<rect x="1013.20" y="263.40" width="1.8" height="0.8" fill="#8c8c8c" stroke="none"/>
<rect x="1018.50" y="263.40" width="1.8" height="0.8" fill="#8c8c8c" stroke="none"/>
<rect x="1024.00" y="263.40" width="1.8" height="0.8" fill="#b4b4b4" stroke="none"/>
<rect x="1029.40" y="263.40" width="1.8" height="0.8" fill="#b4b4b4" stroke="none"/>
<rect x="1002.20" y="266.99" width="1.8" height="0.8" fill="#b4b4b4" stroke="none"/>
<rect x="1007.70" y="266.99" width="1.8" height="0.8" fill="#b4b4b4" stroke="none"/>
<rect x="1013.20" y="266.99" width="1.8" height="0.8" fill="#d8d8d8" stroke="none"/>
<rect x="1018.50" y="266.99" width="1.8" height="0.8" fill="#8c8c8c" stroke="none"/>
<rect x="1024.00" y="266.99" width="1.8" height="0.8" fill="#8c8c8c" stroke="none"/>
<rect x="1029.40" y="266.99" width="1.8" height="0.8" fill="#b4b4b4" stroke="none"/>
<rect x="1002.20" y="270.58" width="1.8" height="0.8" fill="#8c8c8c" stroke="none"/>
<rect x="1007.70" y="270.58" width="1.8" height="0.8" fill="#b4b4b4" stroke="none"/>
<rect x="1013.20" y="270.58" width="1.8" height="0.8" fill="#b4b4b4" stroke="none"/>
<rect x="1018.50" y="270.58" width="1.8" height="0.8" fill="#d8d8d8" stroke="none"/>
<rect x="1024.00" y="270.58" width="1.8" height="0.8" fill="#8c8c8c" stroke="none"/>
<rect x="1029.40" y="270.58" width="1.8" height="0.8" fill="#8c8c8c" stroke="none"/>
<rect x="1002.20" y="274.17" width="1.8" height="0.8" fill="#8c8c8c" stroke="none"/>
<rect x="1007.70" y="274.17" width="1.8" height="0.8" fill="#8c8c8c" stroke="none"/>
<rect x="1013.20" y="274.17" width="1.8" height="0.8" fill="#b4b4b4" stroke="none"/>
<rect x="1018.50" y="274.17" width="1.8" height="0.8" fill="#b4b4b4" stroke="none"/>
<rect x="1024.00" y="274.17" width="1.8" height="0.8" fill="#d8d8d8" stroke="none"/>
<rect x="1029.40" y="274.17" width="1.8" height="0.8" fill="#8c8c8c" stroke="none"/>
<rect x="1002.20" y="277.76" width="1.8" height="0.8" fill="#d8d8d8" stroke="none"/>
<rect x="1007.70" y="277.76" width="1.8" height="0.8" fill="#8c8c8c" stroke="none"/>
<rect x="1013.20" y="277.76" width="1.8" height="0.8" fill="#8c8c8c" stroke="none"/>
<rect x="1018.50" y="277.76" width="1.8" height="0.8" fill="#b4b4b4" stroke="none"/>
<rect x="1024.00" y="277.76" width="1.8" height="0.8" fill="#b4b4b4" stroke="none"/>
<rect x="1029.40" y="277.76" width="1.8" height="0.8" fill="#d8d8d8" stroke="none"/>
<rect x="1002.20" y="281.35" width="1.8" height="0.8" fill="#b4b4b4" stroke="none"/>
<rect x="1007.70" y="281.35" width="1.8" height="0.8" fill="#d8d8d8" stroke="none"/>
<rect x="1013.20" y="281.35" width="1.8" height="0.8" fill="#8c8c8c" stroke="none"/>
<rect x="1018.50" y="281.35" width="1.8" height="0.8" fill="#8c8c8c" stroke="none"/>
<rect x="1024.00" y="281.35" width="1.8" height="0.8" fill="#b4b4b4" stroke="none"/>
<rect x="1029.40" y="281.35" width="1.8" height="0.8" fill="#b4b4b4" stroke="none"/>
<rect x="1002.20" y="284.94" width="1.8" height="0.8" fill="#b4b4b4" stroke="none"/>
<rect x="1007.70" y="284.94" width="1.8" height="0.8" fill="#b4b4b4" stroke="none"/>
<rect x="1013.20" y="284.94" width="1.8" height="0.8" fill="#d8d8d8" stroke="none"/>
<rect x="1018.50" y="284.94" width="1.8" height="0.8" fill="#8c8c8c" stroke="none"/>
<rect x="1024.00" y="284.94" width="1.8" height="0.8" fill="#8c8c8c" stroke="none"/>
<rect x="1029.40" y="284.94" width="1.8" height="0.8" fill="#b4b4b4" stroke="none"/>
<rect x="1002.20" y="288.53" width="1.8" height="0.8" fill="#8c8c8c" stroke="none"/>
<rect x="1007.70" y="288.53" width="1.8" height="0.8" fill="#b4b4b4" stroke="none"/>
<rect x="1013.20" y="288.53" width="1.8" height="0.8" fill="#b4b4b4" stroke="none"/>
<rect x="1018.50" y="288.53" width="1.8" height="0.8" fill="#d8d8d8" stroke="none"/>
<rect x="1024.00" y="288.53" width="1.8" height="0.8" fill="#8c8c8c" stroke="none"/>
<rect x="1029.40" y="288.53" width="1.8" height="0.8" fill="#8c8c8c" stroke="none"/>
<rect x="1002.20" y="292.12" width="1.8" height="0.8" fill="#8c8c8c" stroke="none"/>
<rect x="1007.70" y="292.12" width="1.8" height="0.8" fill="#8c8c8c" stroke="none"/>
<rect x="1013.20" y="292.12" width="1.8" height="0.8" fill="#b4b4b4" stroke="none"/>
<rect x="1018.50" y="292.12" width="1.8" height="0.8" fill="#b4b4b4" stroke="none"/>
<rect x="1024.00" y="292.12" width="1.8" height="0.8" fill="#d8d8d8" stroke="none"/>
<rect x="1029.40" y="292.12" width="1.8" height="0.8" fill="#8c8c8c" stroke="none"/>
<rect x="1002.20" y="295.71" width="1.8" height="0.8" fill="#d8d8d8" stroke="none"/>
<rect x="1007.70" y="295.71" width="1.8" height="0.8" fill="#8c8c8c" stroke="none"/>
<rect x="1013.20" y="295.71" width="1.8" height="0.8" fill="#8c8c8c" stroke="none"/>
<rect x="1018.50" y="295.71" width="1.8" height="0.8" fill="#b4b4b4" stroke="none"/>
<rect x="1024.00" y="295.71" width="1.8" height="0.8" fill="#b4b4b4" stroke="none"/>
<rect x="1029.40" y="295.71" width="1.8" height="0.8" fill="#d8d8d8" stroke="none"/>
<rect x="1002.20" y="299.30" width="1.8" height="0.8" fill="#b4b4b4" stroke="none"/>
<rect x="1007.70" y="299.30" width="1.8" height="0.8" fill="#d8d8d8" stroke="none"/>
<rect x="1013.20" y="299.30" width="1.8" height="0.8" fill="#8c8c8c" stroke="none"/>
<rect x="1018.50" y="299.30" width="1.8" height="0.8" fill="#8c8c8c" stroke="none"/>
<rect x="1024.00" y="299.30" width="1.8" height="0.8" fill="#b4b4b4" stroke="none"/>
<rect x="1029.40" y="299.30" width="1.8" height="0.8" fill="#b4b4b4" stroke="none"/>
<rect x="1002.20" y="302.89" width="1.8" height="0.8" fill="#b4b4b4" stroke="none"/>
<rect x="1007.70" y="302.89" width="1.8" height="0.8" fill="#b4b4b4" stroke="none"/>
<rect x="1013.20" y="302.89" width="1.8" height="0.8" fill="#d8d8d8" stroke="none"/>
<rect x="1018.50" y="302.89" width="1.8" height="0.8" fill="#8c8c8c" stroke="none"/>
<rect x="1024.00" y="302.89" width="1.8" height="0.8" fill="#8c8c8c" stroke="none"/>
<rect x="1029.40" y="302.89" width="1.8" height="0.8" fill="#b4b4b4" stroke="none"/>
<rect x="1002.20" y="306.48" width="1.8" height="0.8" fill="#8c8c8c" stroke="none"/>
<rect x="1007.70" y="306.48" width="1.8" height="0.8" fill="#b4b4b4" stroke="none"/>
<rect x="1013.20" y="306.48" width="1.8" height="0.8" fill="#b4b4b4" stroke="none"/>
<rect x="1018.50" y="306.48" width="1.8" height="0.8" fill="#d8d8d8" stroke="none"/>
<rect x="1024.00" y="306.48" width="1.8" height="0.8" fill="#8c8c8c" stroke="none"/>
<rect x="1029.40" y="306.48" width="1.8" height="0.8" fill="#8c8c8c" stroke="none"/>
<rect x="1002.20" y="310.07" width="1.8" height="0.8" fill="#8c8c8c" stroke="none"/>
<rect x="1007.70" y="310.07" width="1.8" height="0.8" fill="#8c8c8c" stroke="none"/>
<rect x="1013.20" y="310.07" width="1.8" height="0.8" fill="#b4b4b4" stroke="none"/>
<rect x="1018.50" y="310.07" width="1.8" height="0.8" fill="#b4b4b4" stroke="none"/>
<rect x="1024.00" y="310.07" width="1.8" height="0.8" fill="#d8d8d8" stroke="none"/>
<rect x="1029.40" y="310.07" width="1.8" height="0.8" fill="#8c8c8c" stroke="none"/>
<rect x="1002.20" y="313.66" width="1.8" height="0.8" fill="#d8d8d8" stroke="none"/>
<rect x="1007.70" y="313.66" width="1.8" height="0.8" fill="#8c8c8c" stroke="none"/>
<rect x="1013.20" y="313.66" width="1.8" height="0.8" fill="#8c8c8c" stroke="none"/>
<rect x="1018.50" y="313.66" width="1.8" height="0.8" fill="#b4b4b4" stroke="none"/>
<rect x="1024.00" y="313.66" width="1.8" height="0.8" fill="#b4b4b4" stroke="none"/>
<rect x="1029.40" y="313.66" width="1.8" height="0.8" fill="#d8d8d8" stroke="none"/>
<rect x="1002.20" y="317.25" width="1.8" height="0.8" fill="#b4b4b4" stroke="none"/>
<rect x="1007.70" y="317.25" width="1.8" height="0.8" fill="#d8d8d8" stroke="none"/>
<rect x="1013.20" y="317.25" width="1.8" height="0.8" fill="#8c8c8c" stroke="none"/>
<rect x="1018.50" y="317.25" width="1.8" height="0.8" fill="#8c8c8c" stroke="none"/>
<rect x="1024.00" y="317.25" width="1.8" height="0.8" fill="#b4b4b4" stroke="none"/>
<rect x="1029.40" y="317.25" width="1.8" height="0.8" fill="#b4b4b4" stroke="none"/>
<rect x="1002.20" y="320.84" width="1.8" height="0.8" fill="#b4b4b4" stroke="none"/>
<rect x="1007.70" y="320.84" width="1.8" height="0.8" fill="#b4b4b4" stroke="none"/>
<rect x="1013.20" y="320.84" width="1.8" height="0.8" fill="#d8d8d8" stroke="none"/>
<rect x="1018.50" y="320.84" width="1.8" height="0.8" fill="#8c8c8c" stroke="none"/>
<rect x="1024.00" y="320.84" width="1.8" height="0.8" fill="#8c8c8c" stroke="none"/>
<rect x="1029.40" y="320.84" width="1.8" height="0.8" fill="#b4b4b4" stroke="none"/>
<rect x="1002.20" y="324.43" width="1.8" height="0.8" fill="#8c8c8c" stroke="none"/>
<rect x="1007.70" y="324.43" width="1.8" height="0.8" fill="#b4b4b4" stroke="none"/>
<rect x="1013.20" y="324.43" width="1.8" height="0.8" fill="#b4b4b4" stroke="none"/>
<rect x="1018.50" y="324.43" width="1.8" height="0.8" fill="#d8d8d8" stroke="none"/>
<rect x="1024.00" y="324.43" width="1.8" height="0.8" fill="#8c8c8c" stroke="none"/>
<rect x="1029.40" y="324.43" width="1.8" height="0.8" fill="#8c8c8c" stroke="none"/>
<rect x="1002.20" y="328.02" width="1.8" height="0.8" fill="#8c8c8c" stroke="none"/>
<rect x="1007.70" y="328.02" width="1.8" height="0.8" fill="#8c8c8c" stroke="none"/>
<rect x="1013.20" y="328.02" width="1.8" height="0.8" fill="#b4b4b4" stroke="none"/>
<rect x="1018.50" y="328.02" width="1.8" height="0.8" fill="#b4b4b4" stroke="none"/>
<rect x="1024.00" y="328.02" width="1.8" height="0.8" fill="#d8d8d8" stroke="none"/>
<rect x="1029.40" y="328.02" width="1.8" height="0.8" fill="#8c8c8c" stroke="none"/>
<rect x="1002.20" y="331.61" width="1.8" height="0.8" fill="#d8d8d8" stroke="none"/>
<rect x="1007.70" y="331.61" width="1.8" height="0.8" fill="#8c8c8c" stroke="none"/>
<rect x="1013.20" y="331.61" width="1.8" height="0.8" fill="#8c8c8c" stroke="none"/>
<rect x="1018.50" y="331.61" width="1.8" height="0.8" fill="#b4b4b4" stroke="none"/>
<rect x="1024.00" y="331.61" width="1.8" height="0.8" fill="#b4b4b4" stroke="none"/>
<rect x="1029.40" y="331.61" width="1.8" height="0.8" fill="#d8d8d8" stroke="none"/>
<rect x="1002.20" y="335.20" width="1.8" height="0.8" fill="#b4b4b4" stroke="none"/>
<rect x="1007.70" y="335.20" width="1.8" height="0.8" fill="#d8d8d8" stroke="none"/>
<rect x="1013.20" y="335.20" width="1.8" height="0.8" fill="#8c8c8c" stroke="none"/>
<rect x="1018.50" y="335.20" width="1.8" height="0.8" fill="#8c8c8c" stroke="none"/>
<rect x="1024.00" y="335.20" width="1.8" height="0.8" fill="#b4b4b4" stroke="none"/>
<rect x="1029.40" y="335.20" width="1.8" height="0.8" fill="#b4b4b4" stroke="none"/>
<path d="M1034.2 187.3 H1043.4 L1046.6 190.8" fill="none" stroke-width="1.3" />
<path d="M1046.6 210.9 H1069 Q1070.9 210.9 1070.9 212.9" fill="none" stroke-width="1.5" />
<path d="M1034.2 339.3 H1043.4 L1046.6 335.8" fill="none" stroke-width="1.3" />
<path d="M1046.6 315.70000000000005 H1069 Q1070.9 315.70000000000005 1070.9 313.70000000000005" fill="none" stroke-width="1.5" />
<line x1="1046.6" y1="190.8" x2="1046.6" y2="335.8" stroke-width="1.5" />
<line x1="1043.0" y1="187.6" x2="1043.0" y2="339.0" stroke-width="1.2" />
<line x1="1070.9" y1="212.9" x2="1070.9" y2="313.70000000000005" stroke-width="2.0" />
<path d="M1073.3 309.70000000000005 V217.9 Q1073.3 216.9 1074.3 216.9 H1087.2 Q1088.3 216.9 1088.3 217.9 V309.70000000000005 Z" fill="none" stroke-width="1.4" />
<line x1="1086.3" y1="217.5" x2="1086.3" y2="309.1" stroke-width="0.9" />
<line x1="1073.3" y1="305.8" x2="1088.3" y2="305.8" stroke-width="1.0" />
<circle cx="1013.5" cy="263.3" r="14.1" fill="#fff" stroke-width="1.9" />
<circle cx="1013.5" cy="263.4" r="2.2" fill="#000" stroke="none"/>
<path d="M1049.2 193.2 V182 Q1049.2 180.4 1050.8 180.4 H1065.8 Q1067.4 180.4 1067.4 182 V193.2 Q1067.4 194.8 1065.8 194.8 H1050.8 Q1049.2 194.8 1049.2 193.2 Z" fill="#000" stroke-width="0" stroke="none"/>
<rect x="1054.2" y="194.6" width="7.4" height="16.4" fill="#fff" stroke-width="1.3"/>
<rect x="1052.6" y="194.2" width="10.9" height="2.6" fill="#fff" stroke-width="1.2"/>
<rect x="1054.2" y="289.3" width="7.6" height="9" rx="2.6" fill="#fff" stroke-width="1.5"/>
<path d="M1049.2 309.5 V305.3 A8.8 8.8 0 0 1 1066.8 305.3 V309.5 Z" fill="#000" stroke-width="0.3" />
<ellipse cx="1058" cy="310" rx="7.6" ry="6.3" fill="#fff" stroke-width="1.9"/>
<path d="M1071.4 298.6 V293.6 A8.5 8.5 0 0 1 1088.4 293.6 V298.6 Z" fill="#000" stroke-width="0.3" />
<ellipse cx="1079.8" cy="299" rx="7.5" ry="6.2" fill="#fff" stroke-width="1.9"/>
<g id="leaders">
<line x1="536.8" y1="91.2" x2="535.5" y2="145.7" stroke-width="1.3" />
<circle cx="535.5" cy="145.7" r="2.1" fill="#000" stroke="none"/>
<line x1="951" y1="56.2" x2="949.8" y2="113" stroke-width="1.3" />
<line x1="1004.5" y1="96.2" x2="980" y2="134.6" stroke-width="1.3" />
<line x1="1027" y1="142" x2="969.5" y2="208" stroke-width="1.3" />
<line x1="963.2" y1="318.4" x2="963.2" y2="403.2" stroke-width="1.3" />
<line x1="1013.5" y1="263.4" x2="1015" y2="437" stroke-width="1.3" />
</g>
<g id="texts" style="will-change:transform" font-family="Liberation Sans, sans-serif" fill="#000" stroke="#fff" stroke-width="0.4">
<text x="209.0" y="93.3" font-size="22" textLength="242" lengthAdjust="spacingAndGlyphs" >dew shield locking screw</text>
<text x="479.8" y="83.3" font-size="22" textLength="279.8" lengthAdjust="spacingAndGlyphs" >locking screws for tube rings</text>
<text x="908.4" y="45" font-size="22" textLength="207.4" lengthAdjust="spacingAndGlyphs" >fine adjustment knob</text>
<text x="961.0" y="88.3" font-size="22" textLength="235" lengthAdjust="spacingAndGlyphs" >coarse adjustment knob</text>
<text x="1006.0" y="136.8" font-size="22" textLength="109.2" lengthAdjust="spacingAndGlyphs" >finder base</text>
<text x="880.5" y="422.5" font-size="22" textLength="109.2" lengthAdjust="spacingAndGlyphs" >finder base</text>
<text x="867.6" y="452.5" font-size="22" textLength="205" lengthAdjust="spacingAndGlyphs" >rotator locking screw</text>
<text x="615.0" y="409.2" font-size="21.5" textLength="75.6" lengthAdjust="spacingAndGlyphs" >140mm</text>
<text x="552.4" y="460.5" font-size="21.5" textLength="75.0" lengthAdjust="spacingAndGlyphs" >600mm</text>
<text x="665.8" y="377.7" font-size="21.5" textLength="63.6" lengthAdjust="spacingAndGlyphs" >12mm</text>
<g transform="translate(478.6,246.4) rotate(-90)">
<text x="0" y="0" font-size="21.5" textLength="63.4" lengthAdjust="spacingAndGlyphs" >15mm</text>
</g>
</g>
</svg>
</body></html>
